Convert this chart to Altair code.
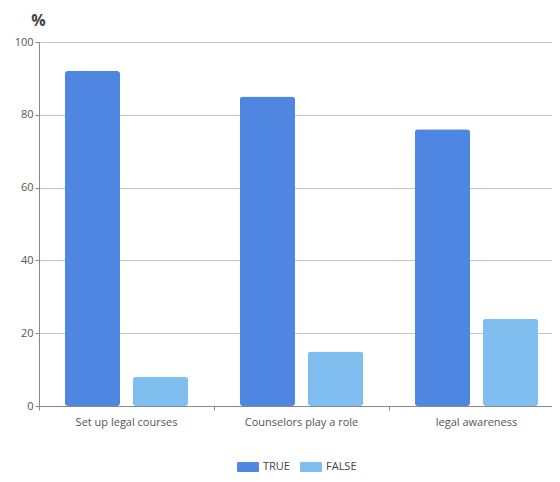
import altair as alt
import pandas as pd

categories = ["Set up legal courses", "Counselors play a role", "legal awareness"]
series = ["TRUE", "FALSE"]
true_vals = [92, 85, 76]
false_vals = [8, 15, 24]
colors = ["#4E86E2", "#80BEF0"]

rows = []
for c, t, f in zip(categories, true_vals, false_vals):
    rows.append({"cat": c, "series": "TRUE", "value": t})
    rows.append({"cat": c, "series": "FALSE", "value": f})
df = pd.DataFrame(rows)

FONT = "Open Sans"
legend_shape = ("M-0.88,-0.45 H0.88 A0.12,0.12 0 0 1 1,-0.33 V0.33 A0.12,0.12 0 0 1 0.88,0.45 "
                "H-0.88 A0.12,0.12 0 0 1 -1,0.33 V-0.33 A0.12,0.12 0 0 1 -0.88,-0.45 Z")

chart = alt.Chart(df).mark_bar(cornerRadius=3).encode(
    x=alt.X("cat:N", sort=categories, title=None,
            scale=alt.Scale(paddingInner=0, paddingOuter=0, range=[0, 525]),
            axis=alt.Axis(labelAngle=0, labelFontSize=11, labelColor="#555", labelFont=FONT,
                          labelPadding=6, tickSize=4, tickColor="#888", domainColor="#888",
                          bandPosition=0, grid=False)),
    xOffset=alt.XOffset("series:N", sort=series,
                        scale=alt.Scale(paddingInner=0.19, paddingOuter=0.38)),
    y=alt.Y("value:Q", scale=alt.Scale(domain=[0, 100]), title="%",
            axis=alt.Axis(values=[0, 20, 40, 60, 80, 100], labelFontSize=11, labelColor="#555",
                          labelFont=FONT, tickSize=4, tickColor="#888", domainColor="#888",
                          gridColor="#c4c4c4", gridWidth=1.2,
                          titleAngle=0, titleX=-1, titleY=-22, titleAlign="center",
                          titleBaseline="middle", titleFontSize=16,
                          titleColor="#444", titleFont=FONT, titleFontWeight="bold")),
    color=alt.Color("series:N", sort=series, scale=alt.Scale(domain=series, range=colors),
                    legend=alt.Legend(title=None, orient="none", direction="horizontal",
                                      legendX=198, legendY=414, symbolType=legend_shape,
                                      symbolSize=484, symbolStrokeWidth=0, symbolOpacity=1,
                                      labelFontSize=11, labelColor="#444", labelFont=FONT,
                                      labelOffset=4, columnPadding=10)),
).properties(
    width=513, height=364,
    autosize=alt.AutoSizeParams(type="none"),
    padding={"left": 31, "top": 34, "right": 0, "bottom": 68},
).configure_view(stroke=None)

chart.save("out.html", embed_options={"renderer": "svg", "actions": False})
